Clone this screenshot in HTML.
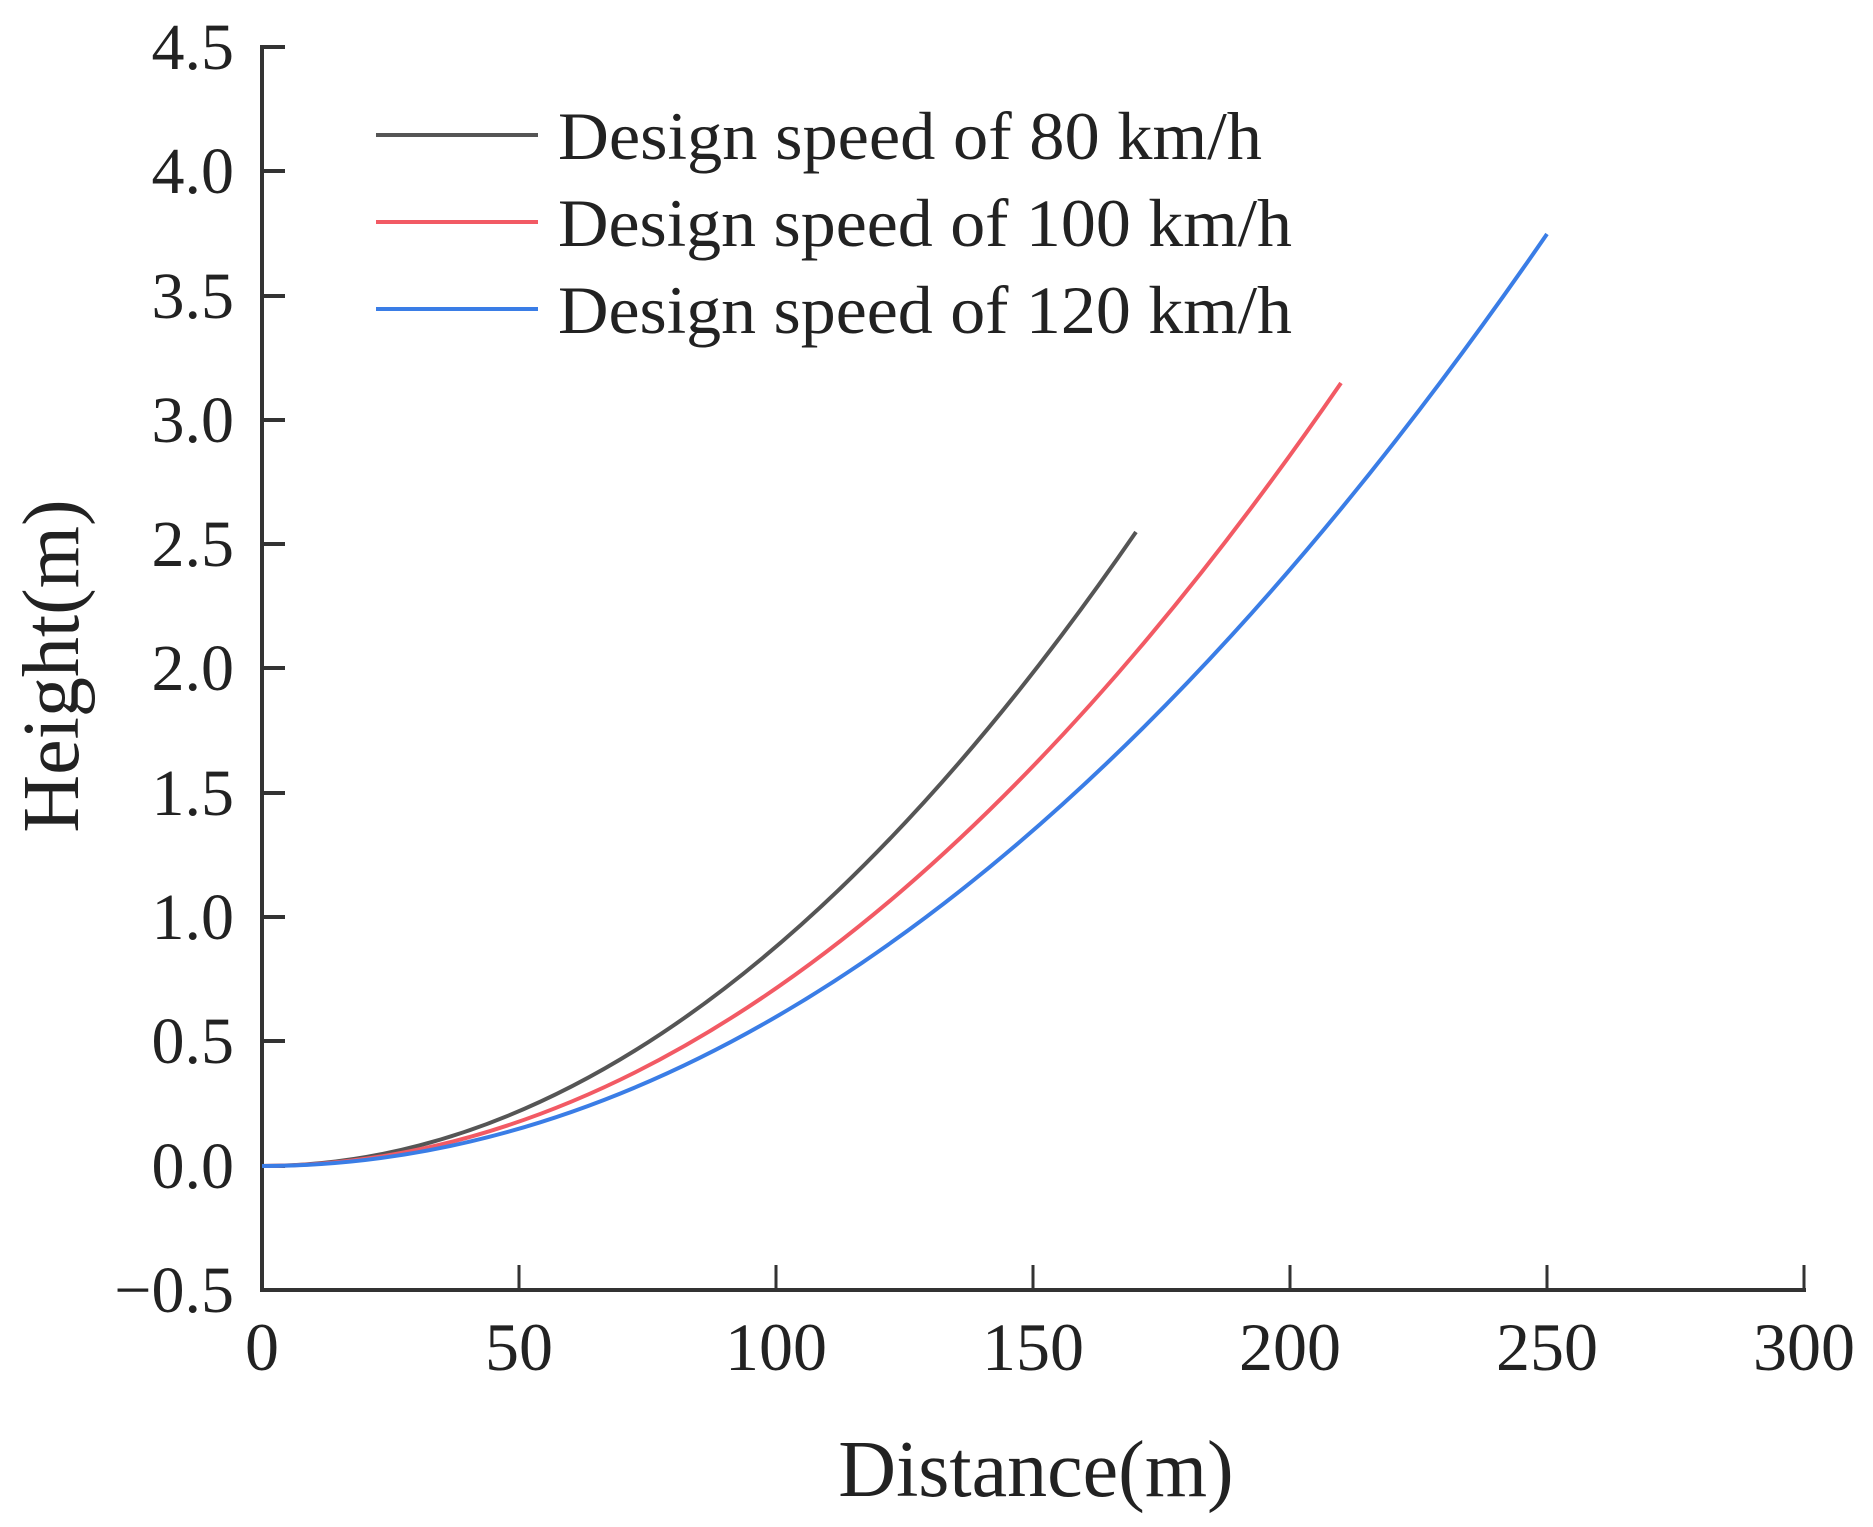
<!DOCTYPE html>
<html><head><meta charset="utf-8"><style>
html,body{margin:0;padding:0;background:#fff;}
svg{display:block;}
text{font-family:"Liberation Serif",serif;fill:#222;}
</style></head><body>
<svg width="1873" height="1527" viewBox="0 0 1873 1527" xmlns="http://www.w3.org/2000/svg">
<g stroke="#333" stroke-width="4" fill="none">
<line x1="262" y1="45" x2="262" y2="1292"/>
<line x1="260" y1="1290" x2="1806" y2="1290"/>
<g stroke-width="4">
<line x1="262" y1="47" x2="285" y2="47"/>
<line x1="262" y1="171" x2="285" y2="171"/>
<line x1="262" y1="296" x2="285" y2="296"/>
<line x1="262" y1="420" x2="285" y2="420"/>
<line x1="262" y1="544" x2="285" y2="544"/>
<line x1="262" y1="668" x2="285" y2="668"/>
<line x1="262" y1="793" x2="285" y2="793"/>
<line x1="262" y1="917" x2="285" y2="917"/>
<line x1="262" y1="1041" x2="285" y2="1041"/>
<line x1="262" y1="1166" x2="285" y2="1166"/>
</g>
<g stroke-width="3">
<line x1="519" y1="1290" x2="519" y2="1265"/>
<line x1="776" y1="1290" x2="776" y2="1265"/>
<line x1="1033" y1="1290" x2="1033" y2="1265"/>
<line x1="1290" y1="1290" x2="1290" y2="1265"/>
<line x1="1547" y1="1290" x2="1547" y2="1265"/>
<line x1="1804" y1="1290" x2="1804" y2="1265"/>
</g>
</g>
<g font-size="66" text-anchor="end">
<text x="234" y="69">4.5</text>
<text x="234" y="193">4.0</text>
<text x="234" y="318">3.5</text>
<text x="234" y="442">3.0</text>
<text x="234" y="566">2.5</text>
<text x="234" y="690">2.0</text>
<text x="234" y="815">1.5</text>
<text x="234" y="939">1.0</text>
<text x="234" y="1063">0.5</text>
<text x="234" y="1188">0.0</text>
<text x="234" y="1312">−0.5</text>
</g>
<g font-size="68" text-anchor="middle">
<text x="262" y="1370">0</text>
<text x="519" y="1370">50</text>
<text x="776" y="1370">100</text>
<text x="1033" y="1370">150</text>
<text x="1290" y="1370">200</text>
<text x="1547" y="1370">250</text>
<text x="1804" y="1370">300</text>
</g>
<text x="1036" y="1496" font-size="80" text-anchor="middle">Distance(m)</text>
<text transform="translate(78,666) rotate(-90)" font-size="80" text-anchor="middle">Height(m)</text>
<g fill="none" stroke-width="4">
<path d="M262 1166 Q699 1166 1136 532" stroke="#555"/>
<path d="M262 1166 Q801.5 1166 1341 383" stroke="#f25a64"/>
<path d="M262 1166 Q904.5 1166 1547 234" stroke="#3a7de6"/>
<line x1="376" y1="135" x2="538" y2="135" stroke="#555"/>
<line x1="376" y1="222" x2="538" y2="222" stroke="#f25a64"/>
<line x1="376" y1="309" x2="538" y2="309" stroke="#3a7de6"/>
</g>
<g font-size="68">
<text x="558" y="159" textLength="704" lengthAdjust="spacingAndGlyphs">Design speed of 80 km/h</text>
<text x="558" y="246" textLength="734" lengthAdjust="spacingAndGlyphs">Design speed of 100 km/h</text>
<text x="558" y="333" textLength="734" lengthAdjust="spacingAndGlyphs">Design speed of 120 km/h</text>
</g>
</svg>
</body></html>
